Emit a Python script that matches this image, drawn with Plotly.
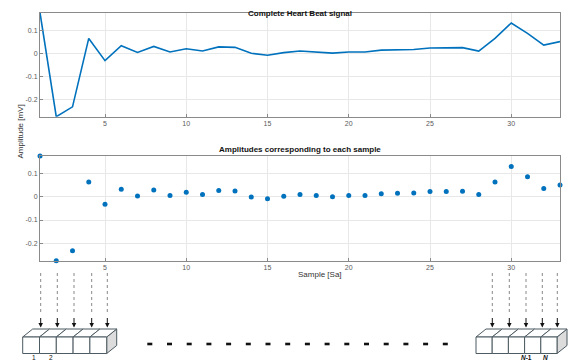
import plotly.graph_objects as go

W, H = 575, 362

samples = list(range(1, 34))
amplitude = [0.177, -0.276, -0.233, 0.065, -0.032, 0.033, 0.004, 0.030, 0.006, 0.020,
             0.010, 0.028, 0.026, 0.000, -0.008, 0.003, 0.010, 0.006, 0.001, 0.006,
             0.006, 0.014, 0.016, 0.017, 0.023, 0.023, 0.025, 0.010, 0.065, 0.132,
             0.087, 0.036, 0.051]
x_ticks = [5, 10, 15, 20, 25, 30]
y_ticks = [-0.2, -0.1, 0, 0.1]
y_ticktext = ["-0.2", "-0.1", "0", "0.1"]
title_top = "Complete Heart Beat signal"
title_bottom = "Amplitudes corresponding to each sample"
y_label = "Amplitude [mV]"
x_label = "Sample [Sa]"
left_labels = ["1", "2"]
right_labels = ["<i>N</i>-1", "<i>N</i>"]

BLUE = "#0072BD"
FONT = "Liberation Sans, Arial, sans-serif"


def px(x):
    return x / W


def py(y):
    return 1 - y / H


fig = go.Figure()
fig.add_trace(go.Scatter(x=samples, y=amplitude, mode="lines",
                         line=dict(color=BLUE, width=1.6),
                         xaxis="x", yaxis="y", cliponaxis=False, showlegend=False))
fig.add_trace(go.Scatter(x=samples, y=amplitude, mode="markers",
                         marker=dict(color=BLUE, size=5),
                         xaxis="x2", yaxis="y2", cliponaxis=False, showlegend=False))

xdom = [px(40), px(560)]
axis_common = dict(showline=True, mirror=True, linecolor="#8a8a8a", linewidth=1,
                   showgrid=True, gridcolor="#e8e8e8", gridwidth=1,
                   ticks="inside", ticklen=3, tickcolor="#8a8a8a",
                   tickfont=dict(family=FONT, size=7, color="#5a5a5a"),
                   zeroline=False)
yr = [-0.276, 0.177]

fig.update_layout(
    width=W, height=H,
    margin=dict(l=0, r=0, t=0, b=0),
    paper_bgcolor="white", plot_bgcolor="white",
    xaxis=dict(domain=xdom, anchor="y", range=[1, 33], tickvals=x_ticks, **axis_common),
    yaxis=dict(domain=[py(116.7), py(12.7)], anchor="x", range=yr,
               tickvals=y_ticks, ticktext=y_ticktext, **axis_common),
    xaxis2=dict(domain=xdom, anchor="y2", range=[1, 33], tickvals=x_ticks, **axis_common),
    yaxis2=dict(domain=[py(260.7), py(156)], anchor="x2", range=yr,
                tickvals=y_ticks, ticktext=y_ticktext, **axis_common),
)

annotations = [
    dict(text="<b>" + title_top + "</b>", x=px(300), y=py(6.5), xref="paper", yref="paper",
         showarrow=False, font=dict(family=FONT, size=8, color="#111")),
    dict(text="<b>" + title_bottom + "</b>", x=px(300), y=py(150), xref="paper", yref="paper",
         showarrow=False, font=dict(family=FONT, size=8, color="#111")),
    dict(text=y_label, x=px(14), y=py(132), xref="paper", yref="paper", textangle=-90,
         showarrow=False, font=dict(family=FONT, size=8, color="#333")),
    dict(text=x_label, x=px(320), y=py(281), xref="paper", yref="paper",
         showarrow=False, font=dict(family=FONT, size=8, color="#333")),
]

shapes = []
# diagram geometry (decoration)
box_top, box_bot = 337.0, 353.5
ddx, ddy = 10, -8
EDGE = "#4d5b62"
groups = [
    dict(x0=22.7, w=16.8, arrows=[40.7, 57.3, 74.0, 91.7, 107.3], labels=left_labels, first=0),
    dict(x0=476.0, w=16.2, arrows=[492.3, 509.3, 526.0, 542.3, 557.3], labels=right_labels, first=3),
]


def path(points):
    return "M " + " L ".join(f"{px(x)},{py(y)}" for x, y in points) + " Z"


for g in groups:
    x0, w = g["x0"], g["w"]
    x1 = x0 + 5 * w
    shapes.append(dict(type="path", xref="paper", yref="paper",
                       path=path([(x1, box_top), (x1 + ddx, box_top + ddy),
                                  (x1 + ddx, box_bot + ddy), (x1, box_bot)]),
                       fillcolor="#dcdcdc", line=dict(color=EDGE, width=1)))
    for i in range(5):
        a = x0 + i * w
        b = a + w
        shapes.append(dict(type="path", xref="paper", yref="paper",
                           path=path([(a, box_top), (a + ddx, box_top + ddy),
                                      (b + ddx, box_top + ddy), (b, box_top)]),
                           fillcolor="white", line=dict(color=EDGE, width=1)))
        shapes.append(dict(type="rect", xref="paper", yref="paper",
                           x0=px(a), x1=px(b), y0=py(box_bot), y1=py(box_top),
                           fillcolor="white", line=dict(color=EDGE, width=1)))
    for ax_ in g["arrows"]:
        shapes.append(dict(type="line", xref="paper", yref="paper",
                           x0=px(ax_), x1=px(ax_), y0=py(273), y1=py(312),
                           line=dict(color="#888", width=1, dash="dot")))
        annotations.append(dict(x=px(ax_), y=py(327.5), xref="paper", yref="paper",
                                ax=0, ay=-11, showarrow=True, arrowhead=2,
                                arrowsize=0.9, arrowwidth=1, arrowcolor="#111", text=""))
    for k, lab in enumerate(g["labels"]):
        idx = g["first"] + k
        cx = x0 + idx * w + w / 2
        annotations.append(dict(text="<b>" + lab + "</b>" if "N" in lab else lab,
                                x=px(cx), y=py(362), xref="paper", yref="paper",
                                yanchor="bottom", yshift=0, borderpad=0,
                                showarrow=False,
                                font=dict(family=FONT, size=6.5, color="#111")))

for k in range(16):
    cx = 147.3 + k * 19.7
    shapes.append(dict(type="rect", xref="paper", yref="paper",
                       x0=px(cx), x1=px(cx + 5), y0=py(345.3), y1=py(342.7),
                       fillcolor="#111", line=dict(width=0)))

fig.update_layout(shapes=shapes, annotations=annotations)
fig.write_html("out.html", config={"displayModeBar": False},
               post_script="document.body.style.margin='0';document.body.style.overflow='hidden';")
